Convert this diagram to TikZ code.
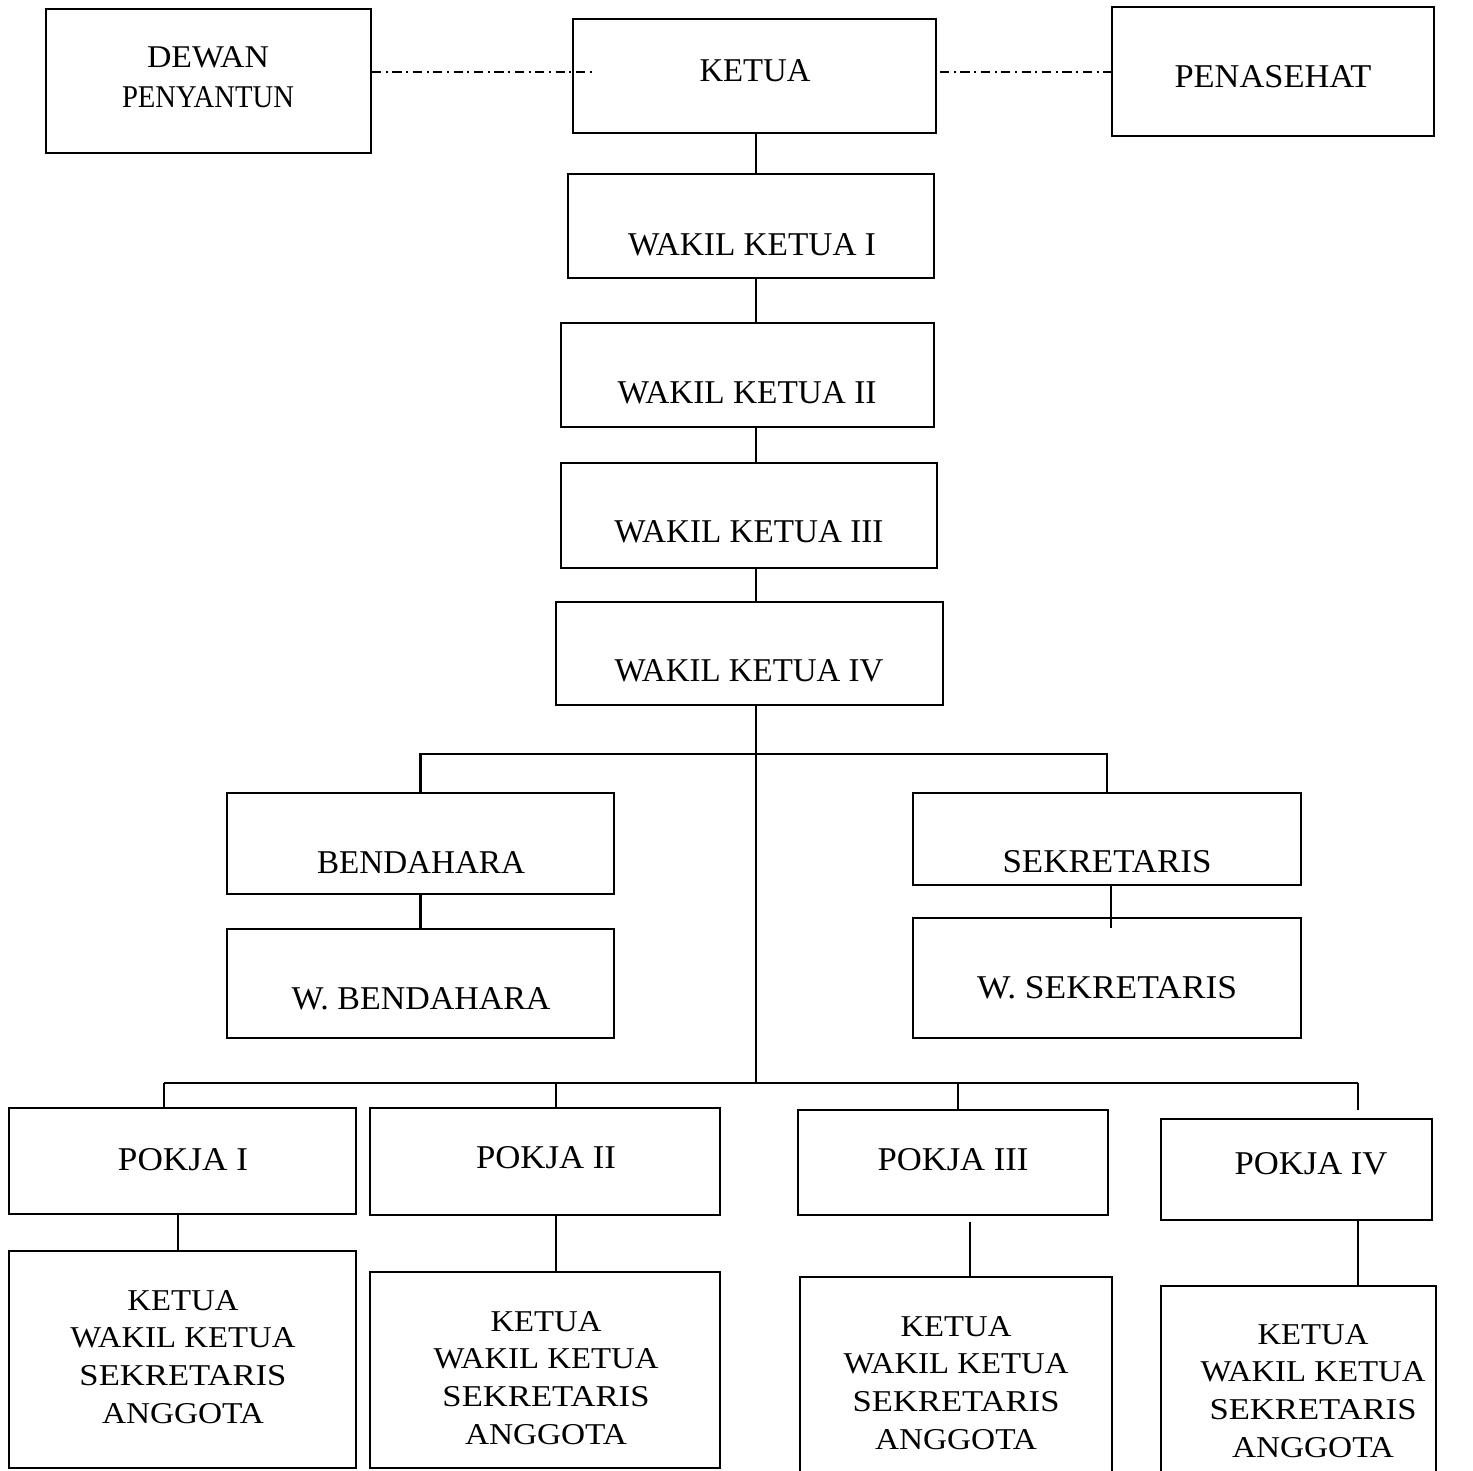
\documentclass[tikz,border=0pt]{standalone}
\usepackage{fontspec}
\setmainfont{Liberation Serif}
\usetikzlibrary{fit}
\newdimen\pxu \pxu=0.01cm
\newcommand{\tw}[2]{\resizebox{\dimexpr #1\pxu\relax}{\height}{#2}}
\begin{document}
\begin{tikzpicture}[x=0.01cm, y=-0.01cm,
  box/.style={draw, line width=0.6pt, inner sep=0pt},
  txt/.style={inner sep=0pt, align=center, font=\fontsize{9.45}{11}\selectfont},
  mtxt/.style={inner sep=0pt, align=center, font=\fontsize{8.6}{10.73}\selectfont},
  link/.style={line width=0.6pt},
  dd/.style={line width=0.6pt, dash pattern=on 2.6pt off 1.3pt on 0.6pt off 1.3pt}]
\useasboundingbox (0,0) rectangle (1473,1471);

% boxes
\node[box, fit={(46,9)(371,153)}] (dewan) {};
\node[box, fit={(573,19)(936,133)}] (ketua) {};
\node[box, fit={(1112,7)(1434,136)}] (pen) {};
\node[box, fit={(568,174)(934,278)}] (wk1) {};
\node[box, fit={(561,323)(934,427)}] (wk2) {};
\node[box, fit={(561,463)(937,568)}] (wk3) {};
\node[box, fit={(556,602)(943,705)}] (wk4) {};
\node[box, fit={(227,793)(614,894)}] (bend) {};
\node[box, fit={(227,929)(614,1038)}] (wbend) {};
\node[box, fit={(913,793)(1301,885)}] (sek) {};
\node[box, fit={(913,918)(1301,1038)}] (wsek) {};
\node[box, fit={(9,1108)(356,1214)}] (p1) {};
\node[box, fit={(370,1108)(720,1215)}] (p2) {};
\node[box, fit={(798,1110)(1108,1215)}] (p3) {};
\node[box, fit={(1161,1119)(1432,1220)}] (p4) {};
\node[box, fit={(9,1251)(356,1468)}] (m1) {};
\node[box, fit={(370,1272)(720,1468)}] (m2) {};
\node[box, fit={(800,1277)(1112,1490)}] (m3) {};
\node[box, fit={(1161,1286)(1436,1490)}] (m4) {};

% texts
\node[txt, font=\fontsize{9}{11.4}\selectfont] (tdewan) at (208,77) {\tw{122}{DEWAN}\\\tw{172}{PENYANTUN}};
\node[txt] (tketua) at (755,71) {\tw{111}{KETUA}};
\node[txt] (tpen) at (1273,77) {\tw{197}{PENASEHAT}};
\node[txt] (twk1) at (752,245) {\tw{248}{WAKIL KETUA I}};
\node[txt] (twk2) at (747,393) {\tw{259}{WAKIL KETUA II}};
\node[txt] (twk3) at (749,532) {\tw{269}{WAKIL KETUA III}};
\node[txt] (twk4) at (749,671) {\tw{269}{WAKIL KETUA IV}};
\node[txt] (tbend) at (421,863) {\tw{208}{BENDAHARA}};
\node[txt] (twbend) at (421,999) {\tw{259}{W. BENDAHARA}};
\node[txt] (tsek) at (1107,862) {\tw{209}{SEKRETARIS}};
\node[txt] (twsek) at (1107,988) {\tw{260}{W. SEKRETARIS}};
\node[txt] (tp1) at (183,1160) {\tw{130}{POKJA I}};
\node[txt] (tp2) at (546,1158) {\tw{140}{POKJA II}};
\node[txt] (tp3) at (953,1160) {\tw{151}{POKJA III}};
\node[txt] (tp4) at (1311,1164) {\tw{153}{POKJA IV}};
\node[mtxt] (tm1) at (183,1357) {\tw{111}{KETUA}\\\tw{225}{WAKIL KETUA}\\\tw{207}{SEKRETARIS}\\\tw{162}{ANGGOTA}};
\node[mtxt] (tm2) at (546,1378) {\tw{111}{KETUA}\\\tw{225}{WAKIL KETUA}\\\tw{207}{SEKRETARIS}\\\tw{162}{ANGGOTA}};
\node[mtxt] (tm3) at (956,1383) {\tw{111}{KETUA}\\\tw{225}{WAKIL KETUA}\\\tw{207}{SEKRETARIS}\\\tw{162}{ANGGOTA}};
\node[mtxt] (tm4) at (1313,1391) {\tw{111}{KETUA}\\\tw{225}{WAKIL KETUA}\\\tw{207}{SEKRETARIS}\\\tw{162}{ANGGOTA}};

% helper coordinates
\coordinate (dl) at (593,72);
\coordinate (dr) at (940,72);
\coordinate (spine) at (756,0);
\coordinate (bus1) at (756,754);
\coordinate (bus2) at (756,1083);
\coordinate (sw) at (1111,928);
\coordinate (d1) at (164,1083);
\coordinate (d2) at (556,1083);
\coordinate (d3) at (958,1083);
\coordinate (d4) at (1358,1083);
\coordinate (e4) at (1358,1110);
\coordinate (x1) at (178,0);
\coordinate (x2) at (556,0);
\coordinate (x3) at (970,1222);
\coordinate (x4) at (1358,0);

% connectors
\draw[dd] (dewan.east |- dl) -- (dl);
\draw[dd] (dr) -- (pen.west |- dr);
\draw[link] (spine |- ketua.south) -- (spine |- wk1.north);
\draw[link] (spine |- wk1.south) -- (spine |- wk2.north);
\draw[link] (spine |- wk2.south) -- (spine |- wk3.north);
\draw[link] (spine |- wk3.south) -- (spine |- wk4.north);
\draw[link] (spine |- wk4.south) -- (bus2);
\draw[link] (bend.north) |- (bus1) -| (sek.north);
\draw[link] (bend.south) -- (wbend.north);
\draw[link] (sek.south -| sw) -- (sw);
\draw[link] (d1) -- (d4);
\draw[link] (d1) -- (d1 |- p1.north);
\draw[link] (d2) -- (d2 |- p2.north);
\draw[link] (d3) -- (d3 |- p3.north);
\draw[link] (d4) -- (e4);
\draw[link] (x1 |- p1.south) -- (x1 |- m1.north);
\draw[link] (x2 |- p2.south) -- (x2 |- m2.north);
\draw[link] (x3) -- (x3 |- m3.north);
\draw[link] (x4 |- p4.south) -- (x4 |- m4.north);
\end{tikzpicture}
\end{document}
